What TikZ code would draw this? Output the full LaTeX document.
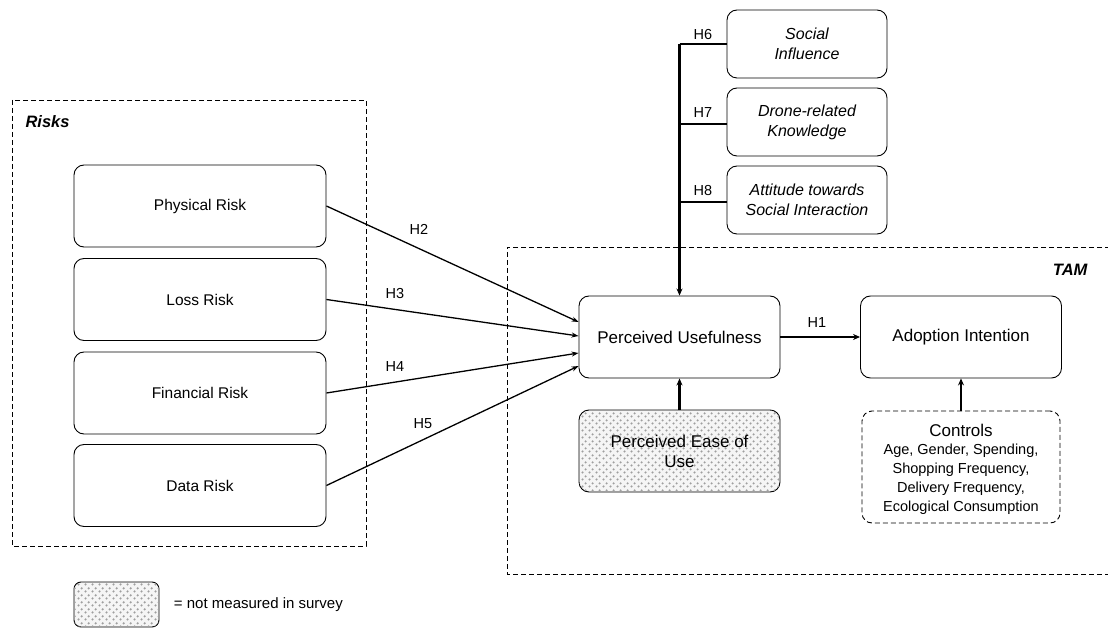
\documentclass[tikz,border=0pt]{standalone}
\usepackage{fontspec}
\setmainfont{Liberation Sans}
\usetikzlibrary{arrows.meta,patterns.meta}
\tikzdeclarepattern{name=mydots, type=uncolored, bounding box={(0pt,0pt) and (7pt,7pt)}, tile size={(7pt,7pt)}, code={\fill (1.75pt,1.75pt) circle (1.35pt); \fill (5.25pt,5.25pt) circle (1.35pt);}}
\tikzset{
  box/.style={draw, rounded corners=10pt, line width=0.9pt, inner sep=0pt, align=center},
  riskbox/.style={box, minimum width=252pt, minimum height=82pt, font=\fontsize{15.5}{18}\selectfont},
  mainbox/.style={box, minimum width=201pt, minimum height=82pt, font=\fontsize{17}{20}\selectfont},
  topbox/.style={box, minimum width=160pt, minimum height=68pt, font=\fontsize{16}{20}\selectfont\itshape},
  dotbox/.style={box, fill=gray!8, postaction={pattern=mydots, pattern color=gray!75}},
  group/.style={draw, dash pattern=on 5pt off 3pt, line width=0.8pt},
  arr/.style={line width=1.3pt, -{Stealth[length=7pt,width=5pt]}},
  thickarr/.style={line width=2.2pt, -{Stealth[length=7pt,width=6pt]}},
  thickline/.style={line width=1.6pt},
  hlab/.style={font=\fontsize{14.5}{17}\selectfont},
  grplab/.style={font=\fontsize{16.5}{19}\selectfont\bfseries\itshape}
}
\begin{document}
\begin{tikzpicture}[x=1pt,y=-1pt]
\useasboundingbox (0,0) rectangle (1108,628);
\fill[white] (0,0) rectangle (1108,628);
% group boxes
\draw[group] (12,100) rectangle (366,546);
\node[grplab, anchor=west] (risks) at (22,122) {Risks};
\draw[group] (1110,247) -- (507,247) -- (507,574) -- (1110,574);
\node[grplab, anchor=east] (tam) at (1091,270) {TAM};
% risk boxes
\node[riskbox] (phys) at (200,206) {Physical Risk};
\node[riskbox] (loss) at (200,299.5) {Loss Risk};
\node[riskbox] (fin) at (200,393) {Financial Risk};
\node[riskbox] (data) at (200,485.5) {Data Risk};
% TAM boxes
\node[mainbox] (pu) at (679.5,337) {Perceived Usefulness};
\node[mainbox] (ai) at (961,337) {Adoption Intention};
\node[mainbox, dotbox] (peou) at (679.5,451) {Perceived Ease of\\Use};
\node[box, dash pattern=on 5pt off 3pt, minimum width=198pt, minimum height=112pt] (ctrl) at (961,467) {};
\node[align=center, font=\fontsize{14.5}{18.8}\selectfont] (ctrltxt) at (961,469) {{\fontsize{17}{19}\selectfont Controls}\\Age, Gender, Spending,\\Shopping Frequency,\\Delivery Frequency,\\Ecological Consumption};
% top boxes
\node[topbox] (si) at (807,44) {Social\\Influence};
\node[topbox] (dk) at (807,122) {Drone-related\\Knowledge};
\node[topbox] (at) at (807,200) {Attitude towards\\Social Interaction};
\coordinate (c6) at (679.5,44);
\coordinate (c7) at (679.5,124);
\coordinate (c8) at (679.5,202);
\draw[thickline] (c6) -- (si.west |- c6);
\draw[thickline] (c7) -- (dk.west |- c7);
\draw[thickline] (c8) -- (at.west |- c8);
\draw[thickarr] (c6) -- (pu.north);
\node[hlab] (h6) at (703,35) {H6};
\node[hlab] (h7) at (703,113) {H7};
\node[hlab] (h8) at (703,191) {H8};
% risk arrows
\draw[arr] (phys.east) -- ([yshift=15pt]pu.west);
\draw[arr] (loss.east) -- ([yshift=1pt]pu.west);
\draw[arr] (fin.east) -- ([yshift=-16pt]pu.west);
\draw[arr] (data.east) -- ([yshift=-29pt]pu.west);
\node[hlab] (h2) at (419,229) {H2};
\node[hlab] (h3) at (395,294) {H3};
\node[hlab] (h4) at (395,367) {H4};
\node[hlab] (h5) at (423,424) {H5};
% TAM arrows
\draw[thickarr] (pu.east) -- (ai.west);
\node[hlab] (h1) at (817,323) {H1};
\draw[thickarr] (peou.north) -- (pu.south);
\draw[thickarr] (ctrl.north) -- (ai.south);
% legend
\node[box, dotbox, rounded corners=7pt, minimum width=85pt, minimum height=45pt] (leg) at (116.5,604.5) {};
\node[anchor=west, font=\fontsize{15}{18}\selectfont] (legtxt) at ([xshift=11pt]leg.east) {= not measured in survey};
\end{tikzpicture}
\end{document}
